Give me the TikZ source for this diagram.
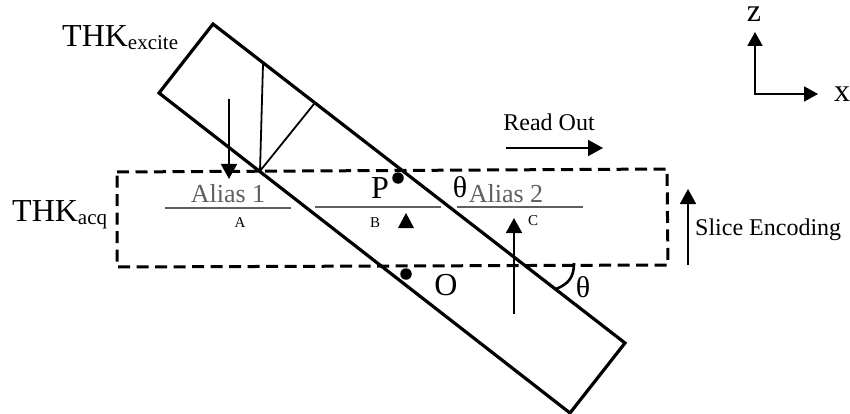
\documentclass[tikz,border=0pt]{standalone}
\usepackage{fontspec}
\setmainfont{Liberation Serif}
\usetikzlibrary{arrows.meta}
\definecolor{aliasgray}{RGB}{95,95,95}
\newcommand{\fsz}[1]{\fontsize{#1}{#1}\selectfont}
\tikzset{
  x=1pt,y=-1pt,
  slab/.style={draw=black,line width=3.2pt,line join=miter},
  dashbox/.style={draw=black,line width=3pt,dash pattern=on 12pt off 6.5pt},
  thin line/.style={draw=black,line width=1.8pt},
  arrowed/.style={draw=black,line width=1.8pt,-{Triangle[length=15pt,width=16pt]}},
  axisarrow/.style={draw=black,line width=1.8pt,{Triangle[length=14pt,width=15pt]}-{Triangle[length=14pt,width=15pt]}},
  alias line/.style={draw=aliasgray,line width=1.6pt},
  dot/.style={circle,fill=black,inner sep=0pt,minimum size=11.5pt},
  lbl/.style={inner sep=0pt,text=black,anchor=base},
  glbl/.style={inner sep=0pt,text=aliasgray,anchor=base}
}
\begin{document}
\begin{tikzpicture}
\useasboundingbox (0,0) rectangle (850,414);
\fill[white] (0,0) rectangle (850,414);
% dashed acquisition box
\coordinate (d1) at (117,172); \coordinate (d2) at (667,169);
\coordinate (d3) at (668,265); \coordinate (d4) at (117,267);
\draw[dashbox] (d1) -- (d2) -- (d3) -- (d4) -- cycle;
% excitation slab
\coordinate (s1) at (213,24); \coordinate (s2) at (625,343);
\coordinate (s3) at (570,413); \coordinate (s4) at (159,93);
\draw[slab] (s1) -- (s2) -- (s3) -- (s4) -- cycle;
% inner lines
\coordinate (m) at (260,171); \coordinate (t1) at (263,64); \coordinate (t2) at (314,104);
\draw[thin line] (t1) -- (m) -- (t2);
% arrows
\coordinate (a1) at (229,99); \coordinate (a2) at (229,179);
\draw[arrowed] (a1) -- (a2);
\coordinate (c1) at (514,314); \coordinate (c2) at (514,218);
\draw[arrowed] (c1) -- (c2);
\coordinate (e1) at (688,265); \coordinate (e2) at (688,189);
\draw[arrowed] (e1) -- (e2);
\coordinate (r1) at (506,148); \coordinate (r2) at (603,148);
\draw[arrowed] (r1) -- (r2);
\fill (406,213) -- (414,228) -- (398,228) -- cycle;
% axes
\coordinate (o) at (755,94); \coordinate (zt) at (755,32); \coordinate (xt) at (818,94);
\draw[axisarrow] (zt) -- (o) -- (xt);
% alias lines
\draw[alias line] (165,208) -- (291,208);
\draw[alias line] (315,207) -- (441,207);
\draw[alias line] (457,207) -- (583,207);
% dots
\node[dot] (P) at (398,178) {};
\node[dot] (O) at (406,274) {};
% angle
\coordinate (g1) at (574,263); \coordinate (g2) at (556,289);
\draw[line width=2.6pt] (g1) .. controls (574,278) and (568,284) .. (g2);
% text
\node[lbl,anchor=base west] (tke) at (62,47) {\fsz{32}THK\fsz{21}\raisebox{-3pt}{excite}};
\node[lbl,anchor=base west] (tka) at (12,221) {\fsz{32}THK\fsz{21}\raisebox{-3pt}{acq}};
\node[glbl] (al1) at (228,202) {\fsz{26}Alias 1};
\node[glbl] (al2) at (506,202) {\fsz{26}Alias 2};
\node[lbl] (A) at (240,227) {\fsz{15}A};
\node[lbl] (B) at (375,227) {\fsz{15}B};
\node[lbl] (C) at (533,225) {\fsz{15}C};
\node[lbl] (Pl) at (380,198) {\fsz{32}P};
\node[lbl] (Ol) at (446,295) {\fsz{32}O};
\node[lbl] (th1) at (460,197) {\fsz{30}θ};
\node[lbl] (th2) at (583,297) {\fsz{30}θ};
\node[lbl] (ro) at (549,131) {\fsz{24}Read Out};
\node[lbl,anchor=base west] (se) at (695,235) {\fsz{24}Slice Encoding};
\node[lbl] (z) at (754,22) {\fsz{32}z};
\node[lbl] (x) at (842,102) {\fsz{32}x};
\end{tikzpicture}
\end{document}
